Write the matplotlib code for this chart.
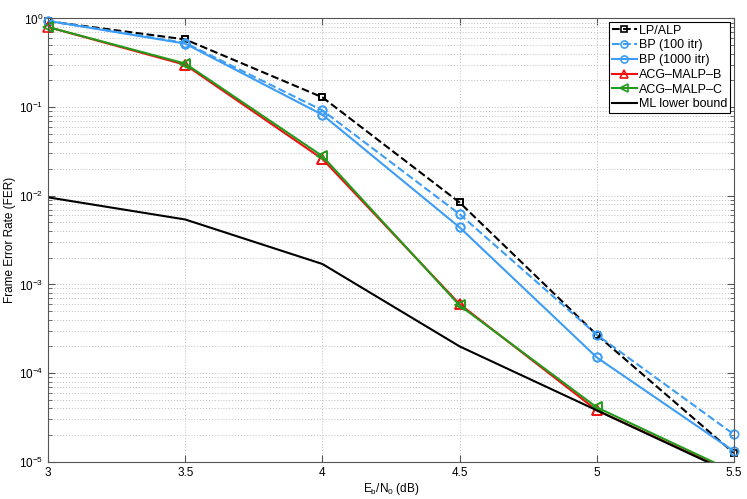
import numpy as np
import matplotlib.pyplot as plt
from matplotlib.ticker import LogLocator, NullFormatter, FixedLocator

plt.rcParams['font.family'] = ['Liberation Sans', 'DejaVu Sans']
plt.rcParams['mathtext.fontset'] = 'custom'
plt.rcParams['mathtext.rm'] = 'Liberation Sans'
plt.rcParams['mathtext.it'] = 'Liberation Sans'

# data
ebn0 = [3.0, 3.5, 4.0, 4.5, 5.0, 5.5]
fer_lp = [0.93, 0.58, 0.129, 8.4e-3, 2.7e-4, 1.25e-5]
fer_bp100 = [0.94, 0.53, 0.092, 6.2e-3, 2.7e-4, 2.03e-5]
fer_bp1000 = [0.94, 0.52, 0.082, 4.4e-3, 1.5e-4, 1.31e-5]
fer_acg_b = [0.80, 0.30, 0.026, 6.0e-4, 3.8e-5, 7.4e-6]
fer_acg_c = [0.80, 0.31, 0.028, 5.8e-4, 4.1e-5, 7.7e-6]
fer_ml = [9.6e-3, 5.4e-3, 1.7e-3, 2.0e-4, 3.8e-5, 7.2e-6]

c_blue = "#3d9df5"
c_red = "#f01010"
c_green = "#249a1c"
text_size = 8.5

fig = plt.figure(figsize=(7.47, 4.99), dpi=100)
ax = fig.add_axes([0.0643, 0.0747, 0.9183, 0.8883])

series = [
    (fer_lp, "k", "--", "s", 4.5, "LP/ALP"),
    (fer_bp100, c_blue, "--", "o", 6, "BP (100 itr)"),
    (fer_bp1000, c_blue, "-", "o", 6, "BP (1000 itr)"),
    (fer_acg_b, c_red, "-", "^", 6.5, "ACG\u2013MALP\u2013B"),
    (fer_acg_c, c_green, "-", "<", 6.5, "ACG\u2013MALP\u2013C"),
    (fer_ml, "k", "-", None, 0, "ML lower bound"),
]

for y, col, ls, mk, ms, lab in series:
    ax.semilogy(ebn0, y, color=col, linestyle=ls, linewidth=1.5, marker=mk,
                markersize=ms, markerfacecolor="none", markeredgewidth=1.2,
                label=lab)
    if mk is not None:
        # markers at the box edge are not clipped, like in the original
        ym = np.ma.masked_less(np.array(y), 1e-5)
        ax.semilogy(ebn0, ym, color=col, linestyle="none", marker=mk,
                    markersize=ms, markerfacecolor="none", markeredgewidth=1.2,
                    clip_on=False)

ax.set_xlim(3, 5.5)
ax.set_ylim(1e-5, 1)
ax.xaxis.set_major_locator(FixedLocator([3, 3.5, 4, 4.5, 5, 5.5]))
ax.set_xticklabels(["3", "3.5", "4", "4.5", "5", "5.5"])
ax.yaxis.set_major_locator(LogLocator(base=10, numticks=10))
ax.yaxis.set_minor_locator(LogLocator(base=10, subs=np.arange(2, 10), numticks=20))
ax.yaxis.set_minor_formatter(NullFormatter())

ax.grid(True, which="major", color="#bdbdbd", linestyle=(0, (1, 2)), linewidth=0.7)
ax.grid(True, which="minor", axis="y", color="#bdbdbd", linestyle=(0, (1, 2)), linewidth=0.7)
ax.tick_params(which="both", direction="in", top=True, right=True, labelsize=text_size,
               color="#555555")
ax.tick_params(which="major", length=5)
ax.tick_params(which="minor", length=3)
for sp in ax.spines.values():
    sp.set_color("#555555")

ax.set_xlabel("E$_b$/N$_0$ (dB)", fontsize=text_size, labelpad=2)
ax.set_ylabel("Frame Error Rate (FER)", fontsize=text_size, labelpad=2)

leg = ax.legend(loc="upper right", fontsize=9, fancybox=False, framealpha=1,
                edgecolor="black", borderpad=0.2, labelspacing=0.22, handlelength=2.0,
                handletextpad=0.2, borderaxespad=0.3, markerscale=0.85)
leg.get_frame().set_linewidth(0.8)

fig.savefig("out.png", dpi=100)
